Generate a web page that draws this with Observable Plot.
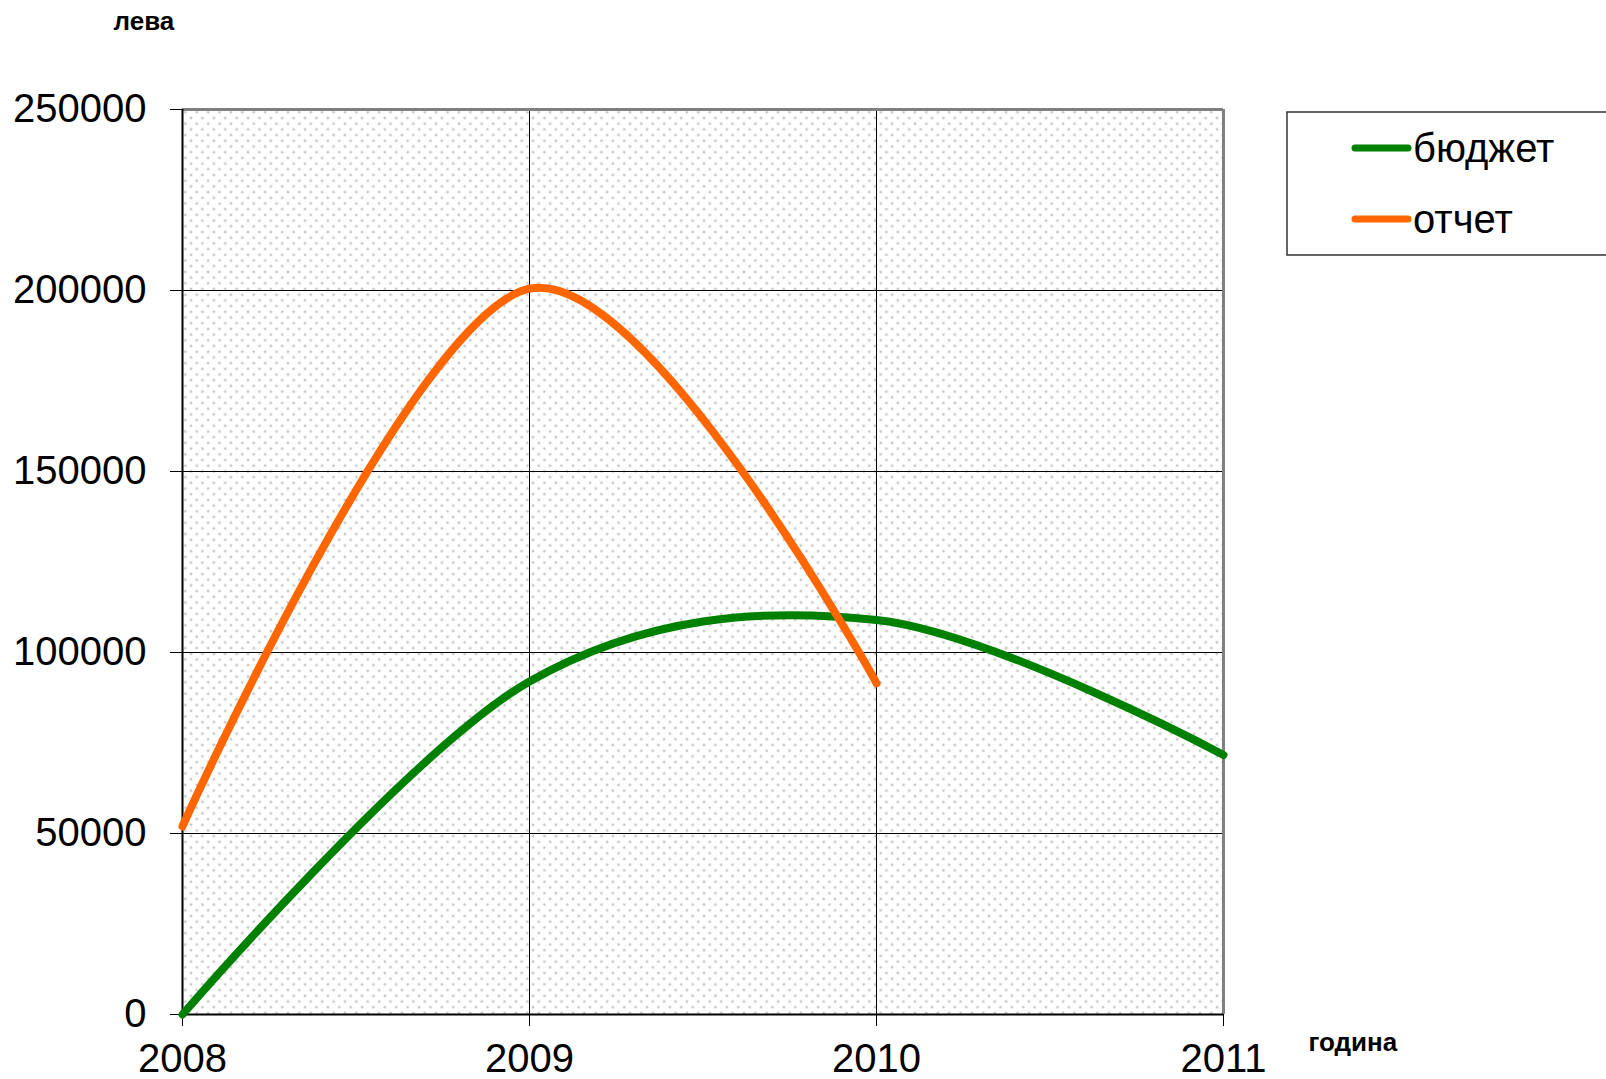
<!DOCTYPE html>
<html>
<head>
<meta charset="utf-8">
<script src="https://cdn.jsdelivr.net/npm/d3@7"></script>
<script src="https://cdn.jsdelivr.net/npm/@observablehq/plot@0.6"></script>
<style>
  html, body { margin: 0; padding: 0; background: #fff; }
  #chart { width: 1606px; height: 1079px; overflow: hidden; }
</style>
</head>
<body>
<div id="chart"></div>
<script>
const years = [2008, 2009, 2010, 2011];
const budget = [0, 92000, 109000, 71700];
const reportYears = [2008, 2009, 2010];
const report = [52000, 200500, 91500];
const seriesNames = ["бюджет", "отчет"];
const seriesColors = ["#008000", "#ff6600"];
const yTicks = [0, 50000, 100000, 150000, 200000, 250000];
const yTitle = "лева";
const xTitle = "година";

const data = [
  ...years.map((y, i) => ({year: y, value: budget[i], series: seriesNames[0]})),
  ...reportYears.map((y, i) => ({year: y, value: report[i], series: seriesNames[1]}))
];

const W = 1606, H = 1079;
const font = "'Liberation Sans', Arial, sans-serif";

const plot = Plot.plot({
  width: W,
  height: H,
  marginLeft: 182,
  marginRight: 383,
  marginTop: 109,
  marginBottom: 65,
  style: {fontFamily: font, background: "#fff", color: "#000", overflow: "visible"},
  x: {domain: [2008, 2011], ticks: years, tickFormat: d => String(d)},
  y: {domain: [0, 250000], ticks: yTicks, tickFormat: d => String(d)},
  color: {domain: seriesNames, range: seriesColors},
  marks: [
    Plot.frame({fill: "url(#dots)", stroke: null}),
    Plot.gridX(years.slice(1, -1), {stroke: "#000", strokeOpacity: 1, strokeWidth: 1}),
    Plot.gridY(yTicks.slice(1, -1), {stroke: "#000", strokeOpacity: 1, strokeWidth: 1}),
    Plot.ruleY([yTicks[yTicks.length - 1]], {stroke: "#808080", strokeWidth: 3}),
    Plot.ruleX([years[years.length - 1]], {stroke: "#808080", strokeWidth: 3}),
    Plot.ruleX([years[0]], {stroke: "#000", strokeWidth: 2}),
    Plot.ruleY([0], {stroke: "#000", strokeWidth: 2}),
    Plot.axisY({ticks: yTicks, tickFormat: d => String(d), tickSize: 12, tickPadding: 24, fontSize: 40, label: null, stroke: "#000"}),
    Plot.axisX({ticks: years, tickFormat: d => String(d), tickSize: 12, tickPadding: 17, fontSize: 40, label: null, stroke: "#000"}),
    Plot.line(data, {x: "year", y: "value", z: "series", stroke: "series", curve: "cardinal", strokeWidth: 8, strokeLinecap: "round", strokeLinejoin: "round"}),
    Plot.text([yTitle], {frameAnchor: "top-left", textAnchor: "start", lineAnchor: "middle", dx: -69, dy: -88, fontSize: 26, fontWeight: "bold", fill: "#000"}),
    Plot.text([xTitle], {frameAnchor: "bottom-right", textAnchor: "start", lineAnchor: "middle", dx: 85, dy: 28, fontSize: 26, fontWeight: "bold", fill: "#000"})
  ]
});

const svg = d3.select(plot);
const defs = svg.insert("defs", ":first-child");
const pat = defs.append("pattern")
  .attr("id", "dots")
  .attr("patternUnits", "userSpaceOnUse")
  .attr("x", 182).attr("y", 109)
  .attr("width", 11.4).attr("height", 11.4);
pat.append("rect").attr("width", 11.4).attr("height", 11.4).attr("fill", "#fff");
pat.append("circle").attr("cx", 2.85).attr("cy", 2.85).attr("r", 1.4).attr("fill", "#c8c8c8");
pat.append("circle").attr("cx", 8.55).attr("cy", 8.55).attr("r", 1.4).attr("fill", "#c8c8c8");

// legend
const lg = svg.append("g").attr("font-family", font).attr("text-anchor", "start");
lg.append("rect")
  .attr("x", 1287).attr("y", 112).attr("width", 340).attr("height", 143)
  .attr("fill", "#fff").attr("stroke", "#333").attr("stroke-width", 1.5);
seriesNames.forEach((name, i) => {
  const ly = 148 + i * 71;
  lg.append("line")
    .attr("x1", 1355).attr("x2", 1408).attr("y1", ly).attr("y2", ly)
    .attr("stroke", seriesColors[i]).attr("stroke-width", 7).attr("stroke-linecap", "round");
  lg.append("text")
    .attr("x", 1413).attr("y", ly + 14)
    .attr("text-anchor", "start")
    .attr("font-size", 40).attr("fill", "#000")
    .text(name);
});

document.getElementById("chart").appendChild(plot);
</script>
</body>
</html>
